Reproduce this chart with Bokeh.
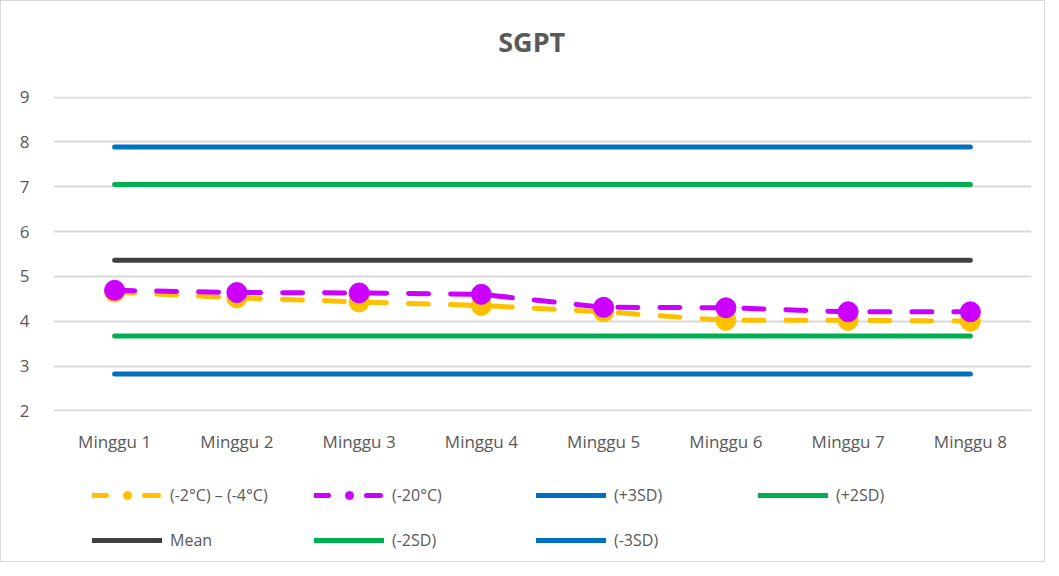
from bokeh.plotting import figure
from bokeh.models import Legend, LegendItem, FactorRange, ColumnDataSource, Range1d, Label
from bokeh.layouts import column
from bokeh.embed import file_html
from bokeh.resources import INLINE

weeks = ["Minggu 1", "Minggu 2", "Minggu 3", "Minggu 4", "Minggu 5", "Minggu 6", "Minggu 7", "Minggu 8"]
s_cold = [4.65, 4.52, 4.43, 4.35, 4.21, 4.02, 4.02, 4.00]
s_frozen = [4.69, 4.64, 4.63, 4.60, 4.31, 4.30, 4.21, 4.21]
plus3sd = 7.89
plus2sd = 7.05
mean_v = 5.36
minus2sd = 3.67
minus3sd = 2.82
y_ticks = [2, 3, 4, 5, 6, 7, 8, 9]
title_text = "SGPT"

FONT = "Open Sans"
GREY = "#595959"
C_COLD, C_FROZEN, C_BLUE, C_GREEN, C_MEAN = "#FFC000", "#CC00FF", "#0070C0", "#00B050", "#404040"
W = 1043

# header panel with the chart title
hd = figure(width=W, height=60, x_range=Range1d(0, W), y_range=Range1d(0, 60),
            output_backend="svg", toolbar_location=None, min_border=0,
            x_axis_location=None, y_axis_location=None)
hd.grid.visible = False
hd.outline_line_color = None
hd.add_layout(Label(x=510, y=20, text=title_text, text_align="center", text_baseline="middle",
                    text_font=FONT, text_font_size="27px", text_font_style="bold", text_color=GREY))

p = figure(width=W, height=410, x_range=FactorRange(factors=weeks, range_padding=0),
           y_range=Range1d(1.985, 9.015), output_backend="svg", toolbar_location=None,
           min_border_left=52, min_border_right=13, min_border_top=35, min_border_bottom=60)
p.outline_line_color = None

p.yaxis.ticker = y_ticks
p.yaxis.axis_line_color = None
p.yaxis.major_tick_line_color = None
p.yaxis.minor_tick_line_color = None
p.xaxis.axis_line_color = None
p.xaxis.major_tick_line_color = None
for ax in (p.xaxis, p.yaxis):
    ax.major_label_text_font = FONT
    ax.major_label_text_font_size = "17px"
    ax.major_label_text_color = GREY
p.xaxis.major_label_standoff = 12
p.yaxis.major_label_standoff = 18
p.xgrid.grid_line_color = None
p.ygrid.grid_line_color = "#d9d9d9"
p.ygrid.grid_line_width = 2

lw = 5
dash = "20 22"
src = ColumnDataSource(dict(x=weeks, cold=s_cold, frozen=s_frozen,
                            p3=[plus3sd] * len(weeks), p2=[plus2sd] * len(weeks), m=[mean_v] * len(weeks),
                            m2=[minus2sd] * len(weeks), m3=[minus3sd] * len(weeks)))

p.line("x", "p3", source=src, color=C_BLUE, line_width=lw, line_cap="round")
p.line("x", "p2", source=src, color=C_GREEN, line_width=lw, line_cap="round")
p.line("x", "m", source=src, color=C_MEAN, line_width=lw, line_cap="round")
p.line("x", "m2", source=src, color=C_GREEN, line_width=lw, line_cap="round")
p.line("x", "m3", source=src, color=C_BLUE, line_width=lw, line_cap="round")
p.line("x", "cold", source=src, color=C_COLD, line_width=lw, line_dash=dash, line_cap="round")
p.scatter("x", "cold", source=src, color=C_COLD, size=20)
p.line("x", "frozen", source=src, color=C_FROZEN, line_width=lw, line_dash=dash, line_cap="round")
p.scatter("x", "frozen", source=src, color=C_FROZEN, size=20)

# legend panel (separate figure holding legend-only renderers, drawn off-range)
lg = figure(width=W, height=90, x_range=Range1d(0, 1), y_range=Range1d(0, 1),
            output_backend="svg", toolbar_location=None, min_border=0)
lg.axis.visible = False
lg.grid.visible = False
lg.outline_line_color = None

hx = [-5, -4]
hy = [-5, -5]

def leg_line(color, d="solid"):
    return lg.line(x=hx, y=hy, color=color, line_width=lw, line_dash=d, line_cap="round")

l_cold = leg_line(C_COLD, "14 38")
s_c = lg.scatter(x=hx, y=hy, color=C_COLD, size=12)
l_fro = leg_line(C_FROZEN, "14 38")
s_f = lg.scatter(x=hx, y=hy, color=C_FROZEN, size=12)
l_p3 = leg_line(C_BLUE)
l_p2 = leg_line(C_GREEN)
l_m = leg_line(C_MEAN)
l_m2 = leg_line(C_GREEN)
l_m3 = leg_line(C_BLUE)

common = dict(orientation="horizontal", glyph_width=70, glyph_height=20, label_standoff=8,
              label_width=144, spacing=0, padding=0, margin=0, border_line_color=None,
              background_fill_alpha=0, label_text_font=FONT, label_text_font_size="16px",
              label_text_color=GREY, label_height=20)
leg1 = Legend(items=[LegendItem(label="(-2°C) – (-4°C)", renderers=[l_cold, s_c]),
                     LegendItem(label="(-20°C)", renderers=[l_fro, s_f]),
                     LegendItem(label="(+3SD)", renderers=[l_p3]),
                     LegendItem(label="(+2SD)", renderers=[l_p2])],
              location=(39, 55), **common)
leg2 = Legend(items=[LegendItem(label="Mean", renderers=[l_m]),
                     LegendItem(label="(-2SD)", renderers=[l_m2]),
                     LegendItem(label="(-3SD)", renderers=[l_m3])],
              location=(39, 10), **common)
lg.add_layout(leg1)
lg.add_layout(leg2)

layout = column(hd, p, lg, spacing=0)
layout.styles = {"border": "1px solid #d9d9d9"}
open("out.html", "w").write(file_html(layout, INLINE))
